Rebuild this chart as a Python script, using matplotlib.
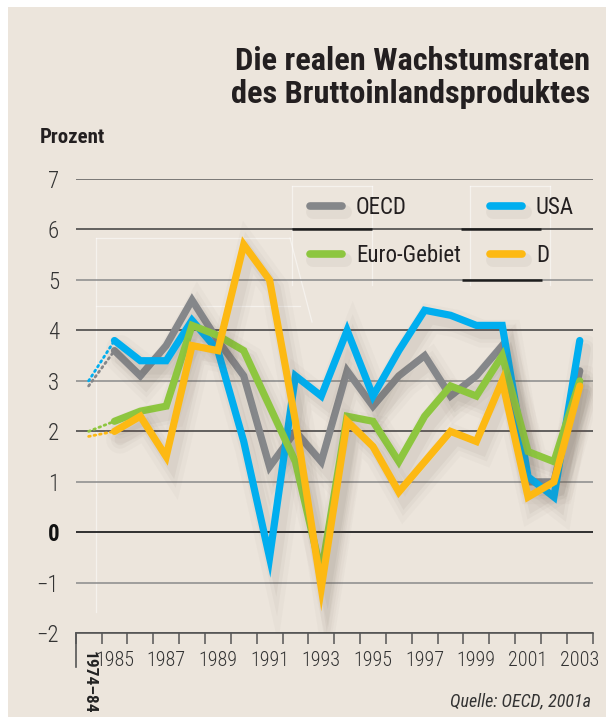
import matplotlib
matplotlib.use("Agg")
import matplotlib.pyplot as plt
import matplotlib.patheffects as pe
from matplotlib import font_manager as fm
from matplotlib.patches import Rectangle
from matplotlib.lines import Line2D

# ---------------- data ----------------
categories = ["1974–84", "1985", "1986", "1987", "1988", "1989", "1990", "1991",
              "1992", "1993", "1994", "1995", "1996", "1997", "1998", "1999",
              "2000", "2001", "2002", "2003"]
shown_labels = ["1974–84", "1985", "", "1987", "", "1989", "", "1991", "", "1993",
                "", "1995", "", "1997", "", "1999", "", "2001", "", "2003"]
oecd = [2.9, 3.6, 3.1, 3.7, 4.6, 3.8, 3.1, 1.3, 2.0, 1.4, 3.2, 2.5, 3.1, 3.5, 2.7, 3.1, 3.7, 1.0, 1.0, 3.2]
usa = [3.0, 3.8, 3.4, 3.4, 4.2, 3.6, 1.8, -0.5, 3.1, 2.7, 4.0, 2.7, 3.6, 4.4, 4.3, 4.1, 4.1, 1.1, 0.7, 3.8]
euro = [2.0, 2.2, 2.4, 2.5, 4.1, 3.9, 3.6, 2.5, 1.4, -0.8, 2.3, 2.2, 1.4, 2.3, 2.9, 2.7, 3.5, 1.6, 1.4, 3.0]
germany = [1.9, 2.0, 2.3, 1.5, 3.7, 3.6, 5.7, 5.0, 2.2, -1.1, 2.2, 1.7, 0.8, 1.4, 2.0, 1.8, 3.0, 0.7, 1.0, 2.9]
series_names = ["OECD", "USA", "Euro-Gebiet", "D"]
series_colors = ["#85878a", "#00aeef", "#8dc63f", "#fdb913"]
yticks = [-2, -1, 0, 1, 2, 3, 4, 5, 6, 7]

title_lines = ["Die realen Wachstumsraten", "des Bruttoinlandsproduktes"]
ylabel_text = "Prozent"
source_text = "Quelle: OECD, 2001a"

# ---------------- font: find a condensed / narrow face if any ----------------
narrow_family, narrow_stretch, scale = None, "normal", 1.0
cond_words = ("condensed", "semi-condensed", "extra-condensed", "ultra-condensed")
pref = ["Liberation Sans Narrow", "Roboto Condensed", "Open Sans Condensed",
        "Noto Sans Condensed", "DejaVu Sans Condensed", "Arial Narrow"]
names = {f.name for f in fm.fontManager.ttflist}
for p in pref:
    if p in names:
        narrow_family = p
        break
if narrow_family is None:
    for f in fm.fontManager.ttflist:
        st = f.stretch
        is_c = (isinstance(st, str) and st in cond_words) or (isinstance(st, (int, float)) and st < 500)
        if is_c and f.name in ("DejaVu Sans", "Noto Sans", "Roboto", "Open Sans", "Liberation Sans"):
            narrow_family, narrow_stretch = f.name, st
            break
if narrow_family is None:
    narrow_family, scale = "Liberation Sans", 0.84

plt.rcParams["font.family"] = [narrow_family, "DejaVu Sans"]
plt.rcParams["font.stretch"] = narrow_stretch

def fs(v):
    return v * scale

BG = "#ece5dc"
TXT = "#231f20"

W, H = 606, 717
fig = plt.figure(figsize=(W / 100, H / 100), dpi=100)
fig.patch.set_facecolor("white")
fig.add_artist(Rectangle((8 / W, 0), 1 - 8 / W, 1 - 7 / H, transform=fig.transFigure,
                         facecolor=BG, edgecolor="none", zorder=-10))

ax_left, ax_right = 75.7, 592.7
ax_top, ax_bot = 179.0, 633.3
ax = fig.add_axes([ax_left / W, 1 - ax_bot / H, (ax_right - ax_left) / W, (ax_bot - ax_top) / H])
ax.set_facecolor("none")

x = list(range(len(categories)))
ax.set_xlim(-0.5, len(categories) - 0.5)
ax.set_ylim(-2, 7)

def fpx(px, py):
    return px / W, 1 - py / H

# faint decorative white frame lines
for (x0, y0), (x1, y1) in [((96, 238), (96, 612)), ((96, 238), (290, 238)),
                           ((290, 238), (312, 322)), ((96, 306), (300, 306)),
                           ((292, 186), (372, 186)), ((292, 186), (292, 285)),
                           ((372, 186), (372, 285)), ((470, 186), (550, 186)),
                           ((470, 186), (470, 285)), ((550, 186), (550, 285))]:
    a, b = fpx(x0, y0), fpx(x1, y1)
    fig.add_artist(Line2D([a[0], b[0]], [a[1], b[1]], transform=fig.transFigure,
                          color="white", lw=0.9, alpha=0.5, zorder=-5))

# grid
ax.set_yticks(yticks)
ax.grid(axis="y", linewidth=1.1, zorder=0)
for gl, v in zip(ax.get_ygridlines(), yticks):
    gl.set_color("#3c3c3c" if v % 2 == 0 else "#8a8a8a")
    if v == 0:
        gl.set_color("#222222")
        gl.set_linewidth(1.3)
    if v == 7:
        gl.set_color("#5a5a5a")
ax.set_axisbelow(True)

# legend underline accents on grid lines
ax.hlines(6, 7.87, 10.96, color="#1e1e1e", lw=1.8, zorder=1)
ax.hlines(6, 14.4, 17.5, color="#1e1e1e", lw=1.8, zorder=1)
ax.hlines(5, 14.45, 17.55, color="#1e1e1e", lw=1.8, zorder=1)

# lines with soft shadows
sc = "#6a5c50"
shadow = [pe.SimpleLineShadow(offset=(4, -6), shadow_color=sc, alpha=0.03, rho=1, linewidth=20),
          pe.SimpleLineShadow(offset=(4, -6), shadow_color=sc, alpha=0.045, rho=1, linewidth=13),
          pe.SimpleLineShadow(offset=(4, -6), shadow_color=sc, alpha=0.06, rho=1, linewidth=8),
          pe.Normal()]
data = [oecd, usa, euro, germany]
zorders = [3, 4, 5, 6]
handles = []
for vals, name, col, z in zip(data, series_names, series_colors, zorders):
    ax.plot(x[1:], vals[1:], color=col, lw=5.2, solid_capstyle="round",
            solid_joinstyle="miter", zorder=z, path_effects=shadow, label=name)
    ax.plot(x[:2], vals[:2], color=col, lw=2.0, linestyle=(0, (0.6, 1.4)),
            dash_capstyle="round", zorder=z - 0.5)
    handles.append(Line2D([], [], color=col, lw=5.5, solid_capstyle="round",
                          path_effects=[pe.SimpleLineShadow(offset=(2, -4), shadow_color=sc,
                                                            alpha=0.07, rho=1, linewidth=10),
                                        pe.Normal()]))

# legend (column-major: OECD, Euro | USA, D)
order = [0, 2, 1, 3]
leg_fs = fs(16.5)
em = leg_fs * 100 / 72
leg = ax.legend([handles[i] for i in order], [series_names[i] for i in order],
                ncol=2, frameon=False, fontsize=leg_fs, loc="upper left",
                bbox_to_anchor=(fpx(310, 196)), bbox_transform=fig.transFigure,
                handlelength=32 / em, handletextpad=14 / em,
                columnspacing=29 / em,
                labelspacing=1.1, borderpad=0, borderaxespad=0)
for t in leg.get_texts():
    t.set_color(TXT)

# axes / ticks
for s in ["top", "right", "left"]:
    ax.spines[s].set_visible(False)
ax.spines["bottom"].set_color("#555555")
ax.spines["bottom"].set_linewidth(1.2)
ax.set_xticks(x)
ax.set_xticklabels(shown_labels)
ax.set_xticks([i - 0.5 for i in range(len(categories) + 1)], minor=True)
ax.tick_params(axis="x", which="major", length=0, pad=13, labelsize=fs(14.5), labelcolor="#333333")
ax.tick_params(axis="x", which="minor", length=8, width=1.1, color="#555555", direction="out")
ax.tick_params(axis="y", length=0, pad=12, labelsize=fs(16.5), labelcolor="#333333")
for lbl in ax.get_xticklabels() + ax.get_yticklabels():
    lbl.set_fontweight("light")
first = ax.get_xticklabels()[0]
first.set_rotation(-90)
first.set_fontweight("bold")
first.set_fontsize(fs(12.5))
first.set_va("top")
first.set_ha("center")
first.set_color("#222222")
for lbl in ax.get_yticklabels():
    if lbl.get_text() == "0":
        lbl.set_fontweight("bold")
        lbl.set_color("#111111")
ax.plot([0, 0], [0, -0.074], transform=ax.transAxes, color="#555555", lw=1.2, clip_on=False)

# texts
fig.text(590 / W, 1 - 70 / H, title_lines[0], ha="right", va="baseline",
         fontsize=fs(23.3), fontweight="bold", color=TXT)
fig.text(590 / W, 1 - 103 / H, title_lines[1], ha="right", va="baseline",
         fontsize=fs(23.3), fontweight="bold", color=TXT)
fig.text(40 / W, 1 - 143 / H, ylabel_text, ha="left", va="baseline",
         fontsize=fs(15), fontweight="bold", color=TXT)
fig.text(591 / W, 1 - 706 / H, source_text, ha="right", va="baseline",
         fontsize=fs(13), style="italic", color="#333333")

fig.savefig("out.png", dpi=100, facecolor=fig.get_facecolor())
